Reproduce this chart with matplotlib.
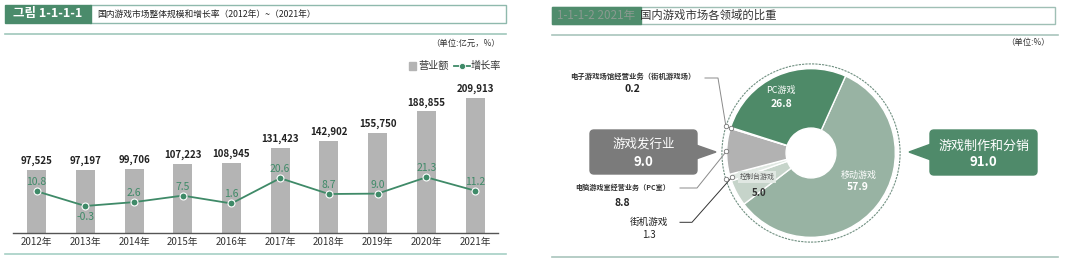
import numpy as np
import matplotlib
matplotlib.use('Agg')
import matplotlib.pyplot as plt
from matplotlib.patches import FancyBboxPatch, Polygon, Rectangle, Circle

plt.rcParams['font.family'] = ['Noto Sans CJK SC', 'DejaVu Sans']

# ---- data ----
years = ['2012年', '2013年', '2014年', '2015年', '2016年',
         '2017年', '2018年', '2019年', '2020年', '2021年']
revenue = [97525, 97197, 99706, 107223, 108945, 131423, 142902, 155750, 188855, 209913]
growth = [10.8, -0.3, 2.6, 7.5, 1.6, 20.6, 8.7, 9.0, 21.3, 11.2]

seg_names = ['移动游戏', '控制台游戏', '街机游戏', '电脑游戏室经营业务（PC室）',
             '电子游戏场馆经营业务（街机游戏场）', 'PC游戏']
seg_values = [57.9, 5.0, 1.3, 8.8, 0.2, 26.8]
seg_colors = ['#98b3a3', '#c6d4ca', '#e0e8e2', '#b2b2b2', '#d2d2d2', '#4e8a68']
group_names = ['游戏发行业', '游戏制作和分销']
group_values = [9.0, 91.0]

W, H = 1080, 268
green = '#3f8a68'
bar_grey = '#b4b4b4'

fig = plt.figure(figsize=(W / 100, H / 100), dpi=100)


def fr(x0, y0, x1, y1):
    return [x0 / W, 1 - y1 / H, (x1 - x0) / W, (y1 - y0) / H]


# ---- left: bars + growth line ----
ax = fig.add_axes(fr(12.7, 60, 498, 232.7))
x = np.arange(len(years))
ax.bar(x, revenue, width=0.39, color=bar_grey, zorder=1)
ax.set_xlim(-0.49, 9.47)
ax.set_ylim(0, 269100)
for s in ['top', 'right', 'left']:
    ax.spines[s].set_visible(False)
ax.spines['bottom'].set_color('#555555')
ax.spines['bottom'].set_linewidth(1)
ax.set_yticks([])
ax.set_xticks(x)
ax.set_xticklabels(years, fontsize=7, color='#333333')
ax.tick_params(axis='x', length=0, pad=3)
for xi, v in zip(x, revenue):
    ax.annotate(f'{v:,}', (xi, v), xytext=(0, 6.5), textcoords='offset points',
                ha='center', va='center', fontsize=7, fontweight='bold', color='#222222')

ax2 = ax.twinx()
ax2.set_ylim(-20.4, 109.5)
ax2.axis('off')
ax2.plot(x, growth, color=green, lw=1.3, marker='o', ms=5, mfc=green, mec='white', mew=0.8)
for xi, g in zip(x, growth):
    off = -7.7 if g < 0 else 6.5
    ax2.annotate(f'{g:.1f}', (xi, g), xytext=(0, off), textcoords='offset points',
                 ha='center', va='center', fontsize=7.5, color=green)

# ---- right: donut ----
axp = fig.add_axes(fr(721, 63, 901, 243))
wedges, _ = axp.pie(seg_values, colors=seg_colors, startangle=65.8, counterclock=False,
                    radius=0.937, wedgeprops=dict(width=0.66, edgecolor='white', linewidth=1.0))
axp.set_xlim(-1, 1)
axp.set_ylim(-1, 1)
axp.add_patch(Circle((0, 0), 0.99, fill=False, ls=(0, (2, 1)), color='#6f8f80', lw=0.8))

# ---- overlay for header, labels, callouts ----
ov = fig.add_axes([0, 0, 1, 1], zorder=10)
ov.set_xlim(0, W)
ov.set_ylim(H, 0)
ov.axis('off')
ov.patch.set_alpha(0)


def pie_pt(i, r):
    w = wedges[i]
    a = np.deg2rad((w.theta1 + w.theta2) / 2)
    p = axp.transData.transform((r * np.cos(a), r * np.sin(a)))
    return ov.transData.inverted().transform(p)


# left header
ov.add_patch(Rectangle((90, 5), 416, 18, facecolor='white', edgecolor='#8fb9ad', lw=1))
ov.add_patch(Rectangle((5, 5), 86, 18, color='#4a8b6b'))
ov.text(48, 14, '그림 1-1-1-1', family=['Noto Sans CJK KR', 'DejaVu Sans'], color='white',
        fontweight='bold', fontsize=9, ha='center', va='center')
ov.text(97, 14, '国内游戏市场整体规模和增长率（2012年）~（2021年）', fontsize=6.3,
        color='#222222', va='center')
ov.plot([5, 506], [34, 34], color='#9fc7bb', lw=1.2)
ov.text(500, 43, '（单位:亿元，%）', ha='right', va='center', fontsize=6, color='#333333')
ov.plot([5, 506], [254, 254], color='#a6cfc5', lw=1.2)

# legend
ov.add_patch(Rectangle((409, 62), 7, 8, color=bar_grey))
ov.text(418, 66, '营业额', fontsize=7.3, va='center', color='#333333')
ov.plot([454, 470], [66, 66], color=green, lw=1.3)
ov.plot([462], [66], 'o', ms=4.5, color=green, mec='white', mew=0.6)
ov.text(471, 66, '增长率', fontsize=7.3, va='center', color='#333333')

# right header
ov.add_patch(Rectangle((552, 7), 503, 17, facecolor='white', edgecolor='#9fbfb5', lw=1))
ov.add_patch(Rectangle((552, 7), 89, 17, color='#4f8c6c'))
ov.text(557, 15.5, '1-1-1-2 2021年', fontsize=8.4, color='#8a9a90', va='center')
ov.text(640, 15.5, '国内游戏市场各领域的比重', fontsize=8.2, color='#333333', va='center')
ov.plot([552, 1058], [35, 35], color='#a9c5bc', lw=1.2)
ov.text(1050, 43, '（单位:%）', ha='right', va='center', fontsize=6, color='#333333')
ov.plot([552, 1058], [256.5, 256.5], color='#a9c5bc', lw=1.2)

# callouts
ov.add_patch(FancyBboxPatch((590, 130), 107, 44, boxstyle='round,pad=0,rounding_size=4',
                            color='#7b7b7b'))
ov.add_patch(Polygon([(696, 145), (716, 152), (696, 159)], color='#7b7b7b'))
ov.text(643.5, 144, group_names[0], color='white', fontsize=9, ha='center', va='center')
ov.text(643.5, 162, f'{group_values[0]:.1f}', color='white', fontsize=9.5,
        fontweight='bold', ha='center', va='center')

ov.add_patch(FancyBboxPatch((930, 130), 107, 45, boxstyle='round,pad=0,rounding_size=4',
                            color='#4f8a6a'))
ov.add_patch(Polygon([(931, 144), (909, 152), (931, 160)], color='#4f8a6a'))
ov.text(983.5, 146, group_names[1], color='white', fontsize=9.4, ha='center', va='center')
ov.text(983.5, 162, f'{group_values[1]:.1f}', color='white', fontsize=9.5,
        fontweight='bold', ha='center', va='center')

# in-donut labels
ov.text(781, 91, seg_names[5], color='white', fontsize=6.5, ha='center', va='center')
ov.text(781, 104, f'{seg_values[5]:.1f}', color='white', fontsize=7.5, fontweight='bold',
        ha='center', va='center')
ov.text(859, 175, seg_names[0], color='white', fontsize=6.5, ha='center', va='center')
ov.text(858, 187.5, f'{seg_values[0]:.1f}', color='white', fontsize=7.5, fontweight='bold',
        ha='center', va='center')
ov.text(757, 177, seg_names[1], color='#555555', fontsize=5, ha='center', va='center',
        bbox=dict(boxstyle='square,pad=0.25', fc='#e3eae5', ec='none', alpha=0.9))
ov.text(759, 192.5, f'{seg_values[1]:.1f}', color='#333333', fontsize=7, fontweight='bold',
        ha='center', va='center')

# outside labels with leaders
ov.text(632.5, 76.7, seg_names[4], fontsize=5.3, color='#333333', ha='center', va='center',
        fontweight='bold')
ov.text(632, 89.5, f'{seg_values[4]:.1f}', fontsize=7.5, color='#222222', ha='center',
        va='center', fontweight='bold')
p_ring = pie_pt(4, 0.99)
p_in = pie_pt(4, 0.93)
ov.plot([705, 718, p_ring[0], p_in[0]], [78, 78, p_ring[1], p_in[1]], color='#8a8a8a', lw=0.7)

ov.text(622.8, 187.3, seg_names[3], fontsize=5.1, color='#333333', ha='center', va='center',
        fontweight='bold')
ov.text(622, 202.5, f'{seg_values[3]:.1f}', fontsize=7.5, color='#222222', ha='center',
        va='center', fontweight='bold')
p3 = pie_pt(3, 0.94)
ov.plot([680, 697, p3[0]], [188, 188, p3[1]], color='#8a8a8a', lw=0.7)

ov.text(649, 222.3, seg_names[2], fontsize=6.9, color='#222222', ha='center', va='center')
ov.text(649, 235, f'{seg_values[2]:.1f}', fontsize=7, color='#222222', ha='center',
        va='center')
p2r = pie_pt(2, 0.99)
p2 = pie_pt(2, 0.92)
ov.plot([680, 692, p2[0]], [222.3, 222.3, p2[1]], color='#333333', lw=0.7)

for p in [p_ring, p_in, p3, p2r, p2]:
    ov.plot([p[0]], [p[1]], 'o', ms=3.2, mfc='white', mec='#777777', mew=0.6)

fig.savefig('out.png', dpi=100)
